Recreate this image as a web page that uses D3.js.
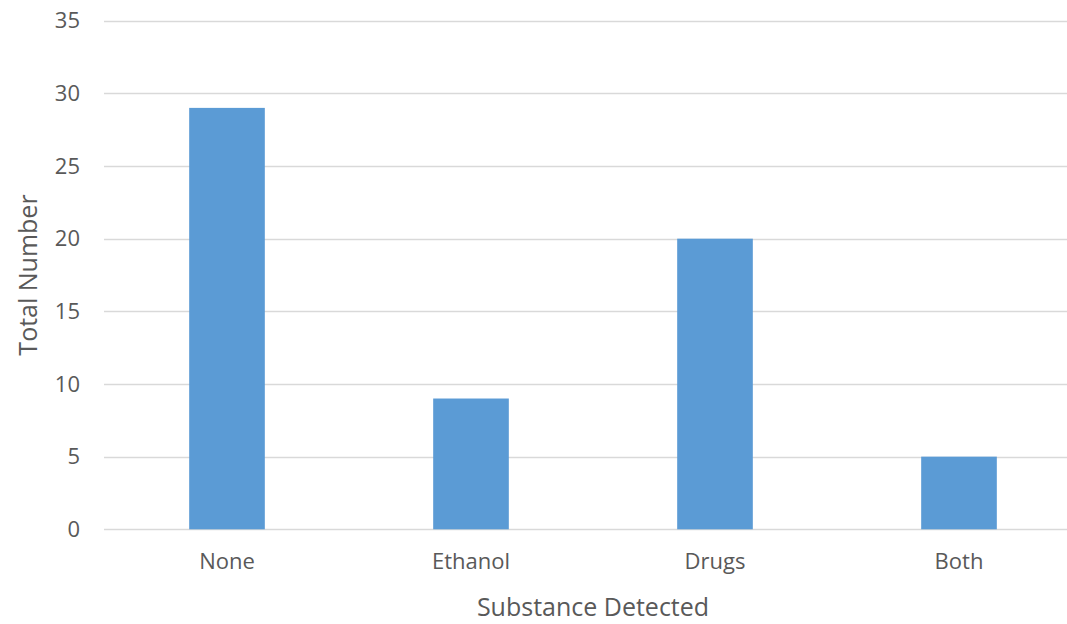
<!DOCTYPE html>
<html><head><meta charset="utf-8">
<script src="https://cdn.jsdelivr.net/npm/d3@7"></script>
<style>body{margin:0;background:#fff;} svg{display:block;}</style>
</head><body>
<svg id="c" width="1067" height="624"></svg>
<script>
const categories = ["None", "Ethanol", "Drugs", "Both"];
const values = [29, 9, 20, 5];
const yTicks = [0, 5, 10, 15, 20, 25, 30, 35];
const xTitle = "Substance Detected";
const yTitle = "Total Number";

(function () {
const svg = d3.select("#c");
const font = "'Open Sans', sans-serif";
const textColor = "#595959";
const plotLeft = 105, plotRight = 1081, plotTop = 20.7, plotBottom = 529.3;

const x = d3.scaleBand().domain(categories).range([plotLeft, plotRight]).paddingInner(0.69).paddingOuter(0.345);
const y = d3.scaleLinear().domain([0, 35]).range([plotBottom, plotTop]);

// gridlines
svg.append("g").selectAll("line").data(yTicks).join("line")
  .attr("x1", 104).attr("x2", 1067)
  .attr("y1", d => Math.round(y(d)) + 0.5).attr("y2", d => Math.round(y(d)) + 0.5)
  .attr("stroke", "#d9d9d9").attr("stroke-width", 1.3);

// y axis labels
const yAxis = d3.axisLeft(y).tickValues(yTicks).tickSize(0).tickPadding(24);
const gy = svg.append("g").attr("transform", `translate(104,0)`).call(yAxis);
gy.select(".domain").remove();
gy.selectAll("text").attr("font-family", font).attr("font-size", 22).attr("fill", textColor);

// bars
svg.append("g").selectAll("rect").data(values).join("rect")
  .attr("x", (d, i) => x(categories[i]))
  .attr("width", x.bandwidth())
  .attr("y", d => y(d))
  .attr("height", d => y(0) - y(d))
  .attr("fill", "#5b9bd5");

// x axis labels
const xAxis = d3.axisBottom(x).tickSize(0).tickPadding(24);
const gx = svg.append("g").attr("transform", `translate(0,${plotBottom})`).call(xAxis);
gx.select(".domain").remove();
gx.selectAll("text").attr("font-family", font).attr("font-size", 22).attr("fill", textColor);

// titles
svg.append("text").attr("x", 593).attr("y", 616).attr("text-anchor", "middle")
  .attr("font-family", font).attr("font-size", 25).attr("fill", textColor).text(xTitle);
svg.append("text").attr("transform", "translate(37,275) rotate(-90)").attr("text-anchor", "middle")
  .attr("font-family", font).attr("font-size", 25).attr("fill", textColor).text(yTitle);
})();
</script>
</body></html>
